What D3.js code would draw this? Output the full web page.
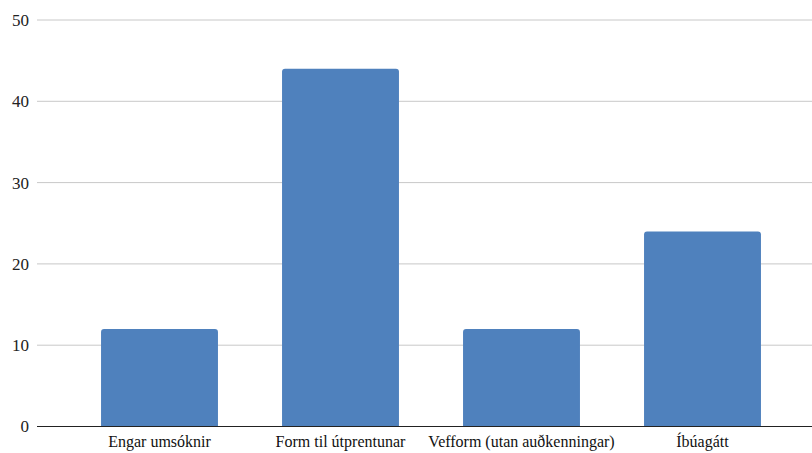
<!DOCTYPE html>
<html>
<head>
<meta charset="utf-8">
<script src="https://cdn.jsdelivr.net/npm/d3@7"></script>
<style>
    body { margin: 0; background: #fff; }
    svg { display: block; }
    text { font-family: "Liberation Serif", "Tinos", "DejaVu Serif", serif; }
</style>
</head>
<body>
<svg id="chart" width="812" height="453"></svg>
<script>
var categories = ["Engar umsóknir", "Form til útprentunar", "Vefform (utan auðkenningar)", "Íbúagátt"];
var values = [12, 44, 12, 24];
var yTicks = [0, 10, 20, 30, 40, 50];

var svg = d3.select("#chart");

// scales
var x = d3.scaleBand()
    .domain(categories)
    .range([69, 793])
    .paddingInner(0.354)
    .paddingOuter(0.177);

var y = d3.scaleLinear()
    .domain([0, 50])
    .range([426.5, 20]);

// gridlines
svg.append("g")
    .selectAll("line")
    .data(yTicks.slice(1))
    .enter().append("line")
    .attr("x1", 37)
    .attr("x2", 812)
    .attr("y1", function (d) { return y(d); })
    .attr("y2", function (d) { return y(d); })
    .attr("stroke", "#c8c8c8")
    .attr("stroke-width", 1);

// y tick labels
svg.append("g")
    .selectAll("text")
    .data(yTicks)
    .enter().append("text")
    .attr("x", 29)
    .attr("y", function (d) { return y(d); })
    .attr("dy", "0.35em")
    .attr("text-anchor", "end")
    .attr("font-size", 17)
    .attr("fill", "#222")
    .text(function (d) { return d; });

// bars with rounded top corners
function barPath(x0, y0, w, h, r) {
    return "M" + x0 + "," + (y0 + h) +
        "V" + (y0 + r) +
        "Q" + x0 + "," + y0 + " " + (x0 + r) + "," + y0 +
        "H" + (x0 + w - r) +
        "Q" + (x0 + w) + "," + y0 + " " + (x0 + w) + "," + (y0 + r) +
        "V" + (y0 + h) + "Z";
}

svg.append("g")
    .selectAll("path")
    .data(values)
    .enter().append("path")
    .attr("d", function (d, i) {
        return barPath(x(categories[i]), y(d), x.bandwidth(), y(0) - y(d), 3);
    })
    .attr("fill", "#4f81bd");

// baseline
svg.append("line")
    .attr("x1", 37)
    .attr("x2", 812)
    .attr("y1", y(0))
    .attr("y2", y(0))
    .attr("stroke", "#222")
    .attr("stroke-width", 1.2);

// category labels
svg.append("g")
    .selectAll("text")
    .data(categories)
    .enter().append("text")
    .attr("x", function (d) { return x(d) + x.bandwidth() / 2; })
    .attr("y", 447)
    .attr("text-anchor", "middle")
    .attr("font-size", 16)
    .attr("fill", "#111")
    .text(function (d) { return d; });
</script>
</body>
</html>
